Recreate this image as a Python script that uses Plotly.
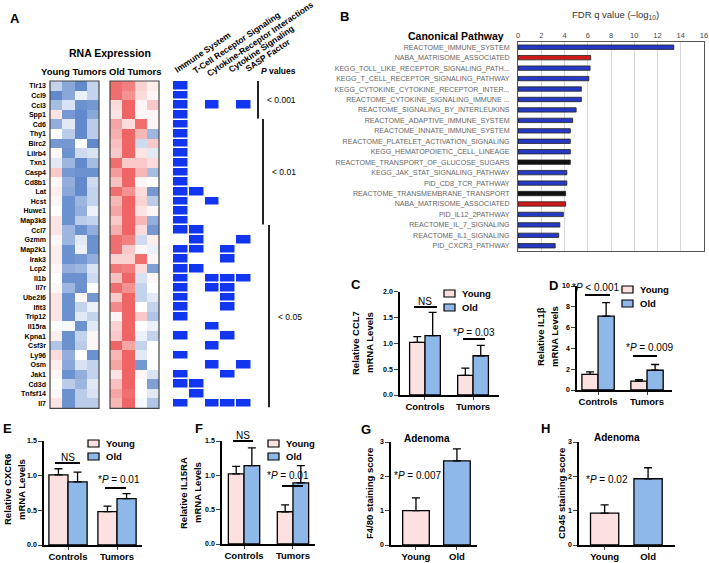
import plotly.graph_objects as go

# ---------------- data ----------------
genes = ["Tlr13", "Ccl9", "Ccl3", "Spp1", "Cd6", "Thy1", "Birc2", "Lilrb4", "Txn1", "Casp4",
         "Cd8b1", "Lat", "Hcst", "Huwe1", "Map3k8", "Ccl7", "Gzmm", "Map2k1", "Irak3", "Lcp2",
         "Il1b", "Il7r", "Ube2l6", "Ifit3", "Trip12", "Il15ra", "Kpna1", "Csf3r", "Ly96", "Osm",
         "Jak1", "Cd3d", "Tnfsf14", "Il7"]

# relative expression (z-score like, -1 blue .. +1 red), 4 mice per group
young_expr = [
    [-0.3, -0.6, -0.8, -0.3], [-0.8, -0.6, -0.1, -0.3], [-0.45, -0.2, -0.75, -0.7],
    [0.15, -0.7, -0.8, -0.6], [-0.55, -0.15, -0.8, -0.35], [0.0, -0.35, -0.8, -0.35],
    [-0.7, -0.7, 0.0, -0.8], [0.05, -0.75, -0.25, -0.2], [-0.15, -0.5, -0.8, -0.45],
    [0.3, -0.7, -0.75, -0.75], [0.05, -0.55, -0.8, -0.25], [0.1, -0.6, -0.8, -0.3],
    [0.05, -0.75, -0.5, -0.3], [0.0, -0.75, -0.55, -0.1], [0.15, -0.75, -0.35, -0.3],
    [0.15, -0.5, -0.75, -0.55], [0.05, -0.5, -0.15, -0.75], [0.1, -0.75, -0.1, -0.75],
    [0.1, -0.75, -0.7, -0.55], [0.05, -0.55, -0.5, -0.2], [0.0, -0.75, -0.75, -0.25],
    [0.05, -0.5, -0.75, 0.0], [0.15, -0.75, 0.05, -0.7], [0.15, -0.75, -0.3, -0.1],
    [0.15, -0.75, -0.15, -0.3], [0.0, -0.05, -0.75, -0.15], [0.1, -0.75, -0.3, 0.05],
    [-0.4, -0.75, -0.35, 0.05], [0.2, -0.55, 0.0, -0.75], [0.1, -0.6, -0.2, -0.3],
    [0.05, -0.75, -0.55, -0.3], [0.0, -0.35, -0.5, -0.15], [0.05, -0.75, -0.35, -0.2],
    [0.15, -0.75, -0.35, -0.35],
]
old_expr = [
    [0.8, 0.7, 0.25, 0.1], [0.8, 0.6, 0.2, 0.05], [0.2, 0.85, 0.05, 0.3],
    [0.15, 0.85, 0.05, 0.05], [0.5, 0.2, 0.8, 0.05], [0.45, 0.85, 0.4, -0.5],
    [0.35, 0.85, -0.25, 0.3], [0.3, 0.85, 0.15, -0.15], [0.8, 0.3, 0.3, 0.2],
    [0.55, 0.85, 0.4, -0.45], [0.35, 0.85, 0.05, 0.0], [0.8, 0.6, 0.2, -0.7],
    [0.4, 0.85, 0.25, -0.35], [0.5, 0.85, 0.15, 0.05], [0.3, 0.85, 0.4, -0.55],
    [0.45, 0.85, 0.2, -0.7], [0.8, 0.7, -0.25, 0.1], [0.8, 0.3, 0.05, -0.1],
    [0.25, 0.25, 0.8, 0.05], [0.75, 0.7, 0.2, -0.65], [0.35, 0.85, -0.2, 0.05],
    [0.8, 0.6, -0.3, 0.0], [0.3, 0.85, -0.3, -0.15], [0.65, 0.85, 0.0, -0.3],
    [0.05, 0.85, 0.3, -0.4], [0.25, 0.85, 0.0, -0.1], [0.3, 0.85, -0.1, -0.3],
    [0.85, 0.5, -0.3, 0.0], [0.4, 0.85, -0.15, 0.0], [0.5, 0.85, -0.7, 0.0],
    [0.15, 0.85, 0.05, -0.2], [0.35, 0.85, 0.0, -0.65], [0.5, 0.8, 0.0, -0.15],
    [0.4, 0.85, -0.05, -0.4],
]

pathways = ["Immune System", "T-Cell Receptor Signaling", "Cytokine-Receptor Interactions",
            "Cytokine Signaling", "SASP Factor"]
membership = [
    [1, 0, 0, 0, 0], [1, 0, 0, 0, 0], [1, 0, 1, 0, 1], [1, 0, 0, 0, 0], [1, 0, 0, 0, 0],
    [1, 0, 0, 0, 0], [1, 0, 0, 0, 0], [1, 0, 0, 0, 0], [1, 0, 0, 0, 0], [1, 0, 0, 0, 0],
    [1, 0, 0, 0, 0], [1, 1, 0, 0, 0], [1, 0, 1, 0, 0], [1, 0, 0, 0, 0], [1, 0, 0, 0, 0],
    [1, 1, 0, 0, 0], [0, 1, 0, 0, 1], [1, 1, 0, 1, 0], [1, 0, 0, 1, 0], [1, 1, 0, 0, 0],
    [1, 0, 1, 1, 1], [1, 0, 1, 1, 0], [1, 0, 0, 1, 0], [1, 0, 0, 1, 0], [1, 0, 0, 0, 0],
    [0, 0, 1, 0, 0], [1, 0, 0, 1, 0], [0, 0, 1, 0, 0], [1, 0, 0, 0, 0], [0, 0, 1, 0, 1],
    [1, 0, 0, 1, 0], [1, 1, 0, 0, 0], [0, 1, 0, 0, 0], [1, 0, 1, 1, 1],
]
p_labels = ["< 0.001", "< 0.01", "< 0.05"]
p_first_row = [0, 4, 15]
p_last_row = [3, 14, 33]

canonical = ["REACTOME_IMMUNE_SYSTEM", "NABA_MATRISOME_ASSOCIATED",
             "KEGG_TOLL_LIKE_RECEPTOR_SIGNALING_PATH...", "KEGG_T_CELL_RECEPTOR_SIGNALING_PATHWAY",
             "KEGG_CYTOKINE_CYTOKINE_RECEPTOR_INTER...", "REACTOME_CYTOKINE_SIGNALING_IMMUNE ...",
             "REACTOME_SIGNALING_BY_INTERLEUKINS", "REACTOME_ADAPTIVE_IMMUNE_SYSTEM",
             "REACTOME_INNATE_IMMUNE_SYSTEM", "REACTOME_PLATELET_ACTIVATION_SIGNALING",
             "KEGG_HEMATOPOIETIC_CELL_LINEAGE", "REACTOME_TRANSPORT_OF_GLUCOSE_SUGARS",
             "KEGG_JAK_STAT_SIGNALING_PATHWAY", "PID_CD8_TCR_PATHWAY",
             "REACTOME_TRANSMEMBRANE_TRANSPORT", "NABA_MATRISOME_ASSOCIATED",
             "PID_IL12_2PATHWAY", "REACTOME_IL_7_SIGNALING", "REACTOME_IL1_SIGNALING",
             "PID_CXCR3_PATHWAY"]
fdr_log10 = [13.4, 6.25, 6.2, 6.1, 5.45, 5.45, 5.0, 4.7, 4.5, 4.5,
             4.5, 4.5, 4.2, 4.2, 4.1, 4.1, 3.9, 3.6, 3.5, 3.2]
pathway_class = ["immune", "matrisome", "immune", "immune", "immune", "immune", "immune",
                 "immune", "immune", "immune", "immune", "transport", "immune", "immune",
                 "transport", "matrisome", "immune", "immune", "immune", "immune"]

groups = ["Controls", "Tumors"]
ccl7_young, ccl7_young_err = [1.02, 0.38], [0.11, 0.14]
ccl7_old, ccl7_old_err = [1.15, 0.76], [0.45, 0.20]
il1b_young, il1b_young_err = [1.5, 0.85], [0.25, 0.15]
il1b_old, il1b_old_err = [7.1, 1.9], [1.3, 0.55]
cxcr6_young, cxcr6_young_err = [1.01, 0.48], [0.09, 0.08]
cxcr6_old, cxcr6_old_err = [0.91, 0.67], [0.14, 0.07]
il15ra_young, il15ra_young_err = [1.02, 0.47], [0.11, 0.10]
il15ra_old, il15ra_old_err = [1.14, 0.89], [0.26, 0.25]
ages = ["Young", "Old"]
f480_score, f480_err = [1.0, 2.45], [0.37, 0.35]
cd45_score, cd45_err = [0.93, 1.93], [0.24, 0.32]

# ---------------- styling helpers ----------------
W, H = 709, 563
FONT = "Liberation Sans"
YOUNG_C, OLD_C = "#fde1e1", "#8fb8ea"
CLASS_COLORS = {"immune": "#2539c4", "matrisome": "#d01a1a", "transport": "#111111"}


def dx(a, b):
    return [a / W, b / W]


def dy(top, bottom):
    return [1 - bottom / H, 1 - top / H]


def px(x):
    return x / W


def py(y):
    return 1 - y / H


annotations, shapes = [], []


def label(x, y, s, size=9, bold=False, color="black", xanchor="center", angle=0, yref="paper"):
    annotations.append(dict(
        x=px(x), y=py(y) if yref == "paper" else y, xref="paper", yref=yref, text=s,
        showarrow=False, xanchor=xanchor, yanchor="middle", textangle=angle,
        font=dict(family=FONT, size=size, color=color, weight="bold" if bold else "normal")))


def hline(x0, x1, y, width=2):
    shapes.append(dict(type="line", xref="paper", yref="paper", x0=px(x0), x1=px(x1),
                       y0=py(y), y1=py(y), line=dict(color="black", width=width)))


def legend_box(x, y, color, name):
    shapes.append(dict(type="rect", xref="paper", yref="paper", x0=px(x), x1=px(x + 11),
                       y0=py(y + 7), y1=py(y), fillcolor=color, line=dict(color="black", width=1.2)))
    label(x + 16, y + 3.5, name, size=9.5, bold=True, xanchor="left")


fig = go.Figure()
layout = {}

# ---------------- panel A ----------------
heat_scale = [[0, "#3a6cbf"], [0.5, "#ffffff"], [1, "#ec4a4a"]]
rows = list(range(len(genes)))
fig.add_trace(go.Heatmap(z=young_expr, x=[0, 1, 2, 3], y=rows, colorscale=heat_scale,
                         zmin=-1, zmax=1, showscale=False, xaxis="x", yaxis="y"))
fig.add_trace(go.Heatmap(z=old_expr, x=[0, 1, 2, 3], y=rows, colorscale=heat_scale,
                         zmin=-1, zmax=1, showscale=False, xaxis="x2", yaxis="y2"))
fig.add_trace(go.Heatmap(z=membership, x=list(range(len(pathways))), y=rows,
                         colorscale=[[0, "#ffffff"], [1, "#1236f0"]], zmin=0, zmax=1,
                         xgap=1.5, ygap=1.5, showscale=False, xaxis="x3", yaxis="y3"))

hm_y = dy(81, 408.3)
hidden = dict(showticklabels=False, showgrid=False, zeroline=False, showline=False, ticks="",
              automargin=False)
for i, xd in zip(["", "2", "3"], [dx(50, 99), dx(110, 159), dx(173, 252)]):
    ncol = len(pathways) if i == "3" else 4
    layout["xaxis" + i] = dict(domain=xd, range=[-0.5, ncol - 0.5], anchor="y" + i, **hidden)
    layout["yaxis" + i] = dict(domain=hm_y, range=[len(genes) - 0.5, -0.5], anchor="x" + i, **hidden)
layout["yaxis"].update(showticklabels=True, tickvals=rows, ticktext=genes, ticklabelstandoff=3,
                       tickfont=dict(family=FONT, size=7, color="black", weight="bold"))
for i in ["", "2"]:
    shapes.append(dict(type="rect", xref="x" + i + " domain", yref="y" + i + " domain",
                       x0=0, x1=1, y0=0, y1=1, line=dict(color="#444", width=1.2)))

label(15, 18, "A", size=13, bold=True)
label(110, 53, "RNA Expression", size=10.5, bold=True)
label(74, 71, "Young Tumors", size=9.5, bold=True)
label(135, 71, "Old Tumors", size=9.5, bold=True)
for name, (cx, cy) in zip(pathways, [(203, 52), (236, 43), (260, 39), (261, 49), (268, 55)]):
    label(cx, cy, name, size=8.5, bold=True, angle=-34)
label(278, 71, "<i>P</i> values", size=8.5, bold=True)
for lab, r0, r1, bx in zip(p_labels, p_first_row, p_last_row, [258, 263, 269]):
    shapes.append(dict(type="line", xref="paper", yref="y3", x0=px(bx), x1=px(bx),
                       y0=r0 - 0.55, y1=r1 + 0.4, line=dict(color="#222", width=2)))
    label(bx + 7, (r0 + r1) / 2, lab, size=8.5, xanchor="left", yref="y3")

# ---------------- panel B ----------------
fig.add_trace(go.Bar(x=fdr_log10, y=list(range(len(canonical))), orientation="h", width=0.42,
                     marker=dict(color=[CLASS_COLORS[c] for c in pathway_class],
                                 line=dict(color="#222", width=0.8)),
                     xaxis="x4", yaxis="y4"))
layout["xaxis4"] = dict(domain=dx(518, 704), anchor="y4", side="top", range=[0, 16], dtick=2,
                        showgrid=True, gridcolor="#d9d9d9", showline=True, mirror=True,
                        linecolor="#555", linewidth=1, zeroline=False, ticks="", automargin=False,
                        tickfont=dict(family=FONT, size=7.5, color="#444"))
layout["yaxis4"] = dict(domain=dy(42, 251), anchor="x4", range=[len(canonical) - 0.5, -0.5],
                        tickvals=list(range(len(canonical))), ticktext=canonical,
                        showline=True, mirror=True, linecolor="#555", linewidth=1,
                        showgrid=False, zeroline=False, ticks="", ticklabelstandoff=6,
                        automargin=False, tickfont=dict(family=FONT, size=7.1, color="#666"))
label(344, 17, "B", size=13, bold=True)
label(615, 15, "FDR q value (–log<sub>10</sub>)", size=9.5, color="#333")
label(456, 36, "Canonical Pathway", size=10.5, bold=True)


# ---------------- panels C-H ----------------
def stat_axes(n, xd, yd, xr, yr, dtick, fmt, cats):
    layout[f"xaxis{n}"] = dict(domain=xd, anchor=f"y{n}", range=xr, tickvals=list(range(len(cats))),
                               ticktext=cats, showline=True, linecolor="black", linewidth=1.5,
                               ticks="outside", ticklen=3, tickwidth=1.2, showgrid=False,
                               zeroline=False, automargin=False, ticklabelstandoff=-1,
                               tickfont=dict(family=FONT, size=9.5, weight="bold"))
    layout[f"yaxis{n}"] = dict(domain=yd, anchor=f"x{n}", range=yr, dtick=dtick, tickformat=fmt,
                               showline=True, linecolor="black", linewidth=1.5, ticks="outside",
                               ticklen=4, tickwidth=1.2, showgrid=False, zeroline=False,
                               automargin=False, tickfont=dict(family=FONT, size=7, weight="bold"))


def err(vals):
    return dict(type="data", array=vals, arrayminus=[0] * len(vals), symmetric=False,
                color="black", thickness=1.3, width=4)


def grouped(n, young, young_err, old, old_err, w):
    x = list(range(len(groups)))
    fig.add_trace(go.Bar(x=x, y=young, offset=-w, width=w, error_y=err(young_err),
                         marker=dict(color=YOUNG_C, line=dict(color="black", width=1.3)),
                         xaxis=f"x{n}", yaxis=f"y{n}"))
    fig.add_trace(go.Bar(x=x, y=old, offset=0, width=w, error_y=err(old_err),
                         marker=dict(color=OLD_C, line=dict(color="black", width=1.3)),
                         xaxis=f"x{n}", yaxis=f"y{n}"))


def single(n, vals, vals_err, w):
    fig.add_trace(go.Bar(x=list(range(len(ages))), y=vals, width=w, error_y=err(vals_err),
                         marker=dict(color=[YOUNG_C, OLD_C], line=dict(color="black", width=1.3)),
                         xaxis=f"x{n}", yaxis=f"y{n}"))


TS = 9.5  # axis title size

# C
grouped(5, ccl7_young, ccl7_young_err, ccl7_old, ccl7_old_err, 0.32)
stat_axes(5, dx(400, 499), dy(291.7, 395), [-0.52, 1.54], [0, 2], 0.5, ".1f", groups)
label(356, 284, "C", size=13, bold=True)
label(355, 343, "Relative CCL7", size=TS, bold=True, angle=-90)
label(369, 343, "mRNA Levels", size=TS, bold=True, angle=-90)
legend_box(444, 290, YOUNG_C, "Young")
legend_box(444, 304, OLD_C, "Old")
label(425, 301, "NS", size=10)
hline(414, 437, 307)
label(474, 332, "*<i>P</i> = 0.03", size=10)
hline(463, 485, 339)

# D
grouped(6, il1b_young, il1b_young_err, il1b_old, il1b_old_err, 0.33)
stat_axes(6, dx(577, 672), dy(286, 390), [-0.43, 1.51], [0, 10], 2, "", groups)
label(553, 285, "D", size=13, bold=True)
label(540, 337, "Relative IL1β", size=TS, bold=True, angle=-90)
label(554, 337, "mRNA Levels", size=TS, bold=True, angle=-90)
legend_box(622, 286, YOUNG_C, "Young")
legend_box(622, 300, OLD_C, "Old")
label(595, 287, "*<i>P</i> < 0.001", size=10)
hline(585, 610, 295)
label(649, 347, "*<i>P</i> = 0.009", size=10)
hline(633, 657, 356)

# E
grouped(7, cxcr6_young, cxcr6_young_err, cxcr6_old, cxcr6_old_err, 0.39)
stat_axes(7, dx(44, 142), dy(441, 545), [-0.49, 1.51], [0, 1.5], 0.5, ".1f", groups)
label(7, 428, "E", size=13, bold=True)
label(7, 490, "Relative CXCR6", size=TS, bold=True, angle=-90)
label(21, 490, "mRNA Levels", size=TS, bold=True, angle=-90)
legend_box(88, 440, YOUNG_C, "Young")
legend_box(88, 453, OLD_C, "Old")
label(68, 457, "NS", size=10)
hline(55, 80, 463)
label(119, 480, "*<i>P</i> = 0.01", size=10)
hline(105, 126, 488)

# F
grouped(8, il15ra_young, il15ra_young_err, il15ra_old, il15ra_old_err, 0.32)
stat_axes(8, dx(222, 315), dy(441, 544), [-0.45, 1.45], [0, 1.5], 0.5, ".1f", groups)
label(199, 428, "F", size=13, bold=True)
label(183, 493, "Relative IL15RA", size=TS, bold=True, angle=-90)
label(197, 493, "mRNA Levels", size=TS, bold=True, angle=-90)
legend_box(268, 440, YOUNG_C, "Young")
legend_box(268, 453, OLD_C, "Old")
label(243, 435, "NS", size=10)
hline(233, 253, 441)
label(288, 475, "*<i>P</i> = 0.01", size=10)
hline(282, 303, 486)

# G
single(9, f480_score, f480_err, 0.65)
stat_axes(9, dx(391, 477), dy(442, 545), [-0.61, 1.49], [0, 3], 1, "", ages)
label(366, 430, "G", size=13, bold=True)
label(427, 438, "Adenoma", size=10, bold=True)
label(369, 494, "F4/80 staining score", size=TS, bold=True, angle=-90)
label(417, 475, "*<i>P</i> = 0.007", size=10)

# H
single(10, cd45_score, cd45_err, 0.65)
stat_axes(10, dx(579, 675), dy(442, 545), [-0.59, 1.62], [0, 3], 1, "", ages)
label(545, 428, "H", size=13, bold=True)
label(617, 437, "Adenoma", size=10, bold=True)
label(561, 494, "CD45 staining score", size=TS, bold=True, angle=-90)
label(607, 479, "*<i>P</i> = 0.02", size=10)

fig.update_layout(width=W, height=H, margin=dict(l=0, r=0, t=0, b=0, autoexpand=False),
                  showlegend=False, paper_bgcolor="white", plot_bgcolor="white",
                  barmode="overlay", font=dict(family=FONT, color="black"),
                  annotations=annotations, shapes=shapes, **layout)
# the page body has a default 8px margin; drop it so the figure sits at the window corner
fig.write_html("out.html", config={"displayModeBar": False},
               post_script="document.body.style.margin = '0px';")
